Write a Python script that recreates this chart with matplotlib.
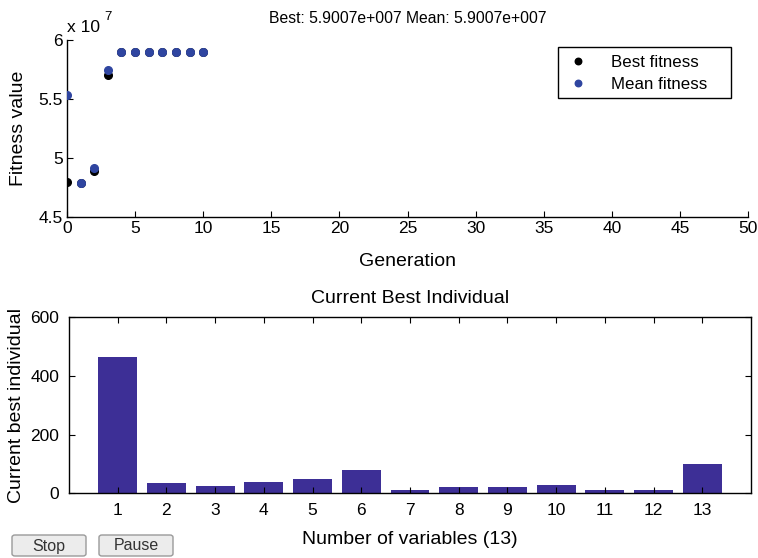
import matplotlib
matplotlib.use("Agg")
import matplotlib.pyplot as plt
from matplotlib.patches import FancyBboxPatch, Rectangle

plt.rcParams['font.family'] = ['Liberation Sans', 'DejaVu Sans']

# ---- data ----
generations_best = [0, 1, 2, 3, 4, 5, 6, 7, 8, 9, 10]
best_fitness = [4.795, 4.783, 4.892, 5.699, 5.9007, 5.9007, 5.9007, 5.9007, 5.9007, 5.9007, 5.9007]  # x 1e7
generations_mean = [0, 1, 2, 3, 4, 5, 6, 7, 8, 9, 10]
mean_fitness = [5.534, 4.783, 4.915, 5.744, 5.9007, 5.9007, 5.9007, 5.9007, 5.9007, 5.9007, 5.9007]  # x 1e7
top_yticks = [4.5, 5, 5.5, 6]
top_yticklabels = ["4.5", "5", "5.5", "6"]
top_xticks = [0, 5, 10, 15, 20, 25, 30, 35, 40, 45, 50]

variables = [1, 2, 3, 4, 5, 6, 7, 8, 9, 10, 11, 12, 13]
individual = [463, 35, 25, 39, 49, 80, 11, 22, 22, 29, 11, 11, 101]
bottom_yticks = [0, 200, 400, 600]

# ---- figure ----
W, H = 758, 558
fig = plt.figure(figsize=(W / 100, H / 100), dpi=100)

TK = 12.5   # tick labels
LB = 14     # axis labels

# top axes
ax1 = fig.add_axes([67 / W, 1 - 216.7 / H, (748 - 67) / W, (216.7 - 40) / H])
ax1.plot(generations_best, best_fitness, 'o', color='black', markersize=5.5, label='Best fitness', zorder=3)
ax1.plot(generations_mean, mean_fitness, 'o', color='#2f45a0', markersize=5.5, label='Mean fitness', zorder=4)
ax1.set_xlim(0, 50)
ax1.set_ylim(4.5, 6)
ax1.set_xticks(top_xticks)
ax1.set_yticks(top_yticks)
ax1.set_yticklabels(top_yticklabels)
ax1.spines['top'].set_visible(False)
ax1.spines['right'].set_visible(False)
for s in ['left', 'bottom']:
    ax1.spines[s].set_linewidth(1.0)
ax1.tick_params(direction='in', length=4, labelsize=TK, pad=3)
ax1.set_xlabel('Generation', fontsize=LB, labelpad=12)
ax1.set_ylabel('Fitness value', fontsize=LB, labelpad=8)
ax1.set_title('Best: 5.9007e+007 Mean: 5.9007e+007', fontsize=11.3, pad=12)
fig.text(67 / W, 1 - 27 / H, 'x 10', fontsize=TK, ha='left', va='center')
fig.text(104 / W, 1 - 17 / H, '7', fontsize=9.5, ha='left', va='center')

# legend box drawn separately (wider than matplotlib's own frame)
box = Rectangle((558 / W, 1 - 98 / H), (731 - 558) / W, (98 - 47) / H,
                transform=fig.transFigure, facecolor='white', edgecolor='black',
                linewidth=1.0, zorder=5, clip_on=False)
ax1.add_patch(box)
leg = ax1.legend(loc='upper left', bbox_to_anchor=(566 / W, 1 - 54.5 / H),
                 bbox_transform=fig.transFigure, fontsize=12.2, frameon=False,
                 handlelength=1.4, handletextpad=1.25, borderpad=0, borderaxespad=0,
                 labelspacing=0.45, markerscale=0.85)
leg.set_zorder(6)

# bottom axes
ax2 = fig.add_axes([69 / W, 1 - 493.3 / H, (751 - 69) / W, (493.3 - 317) / H])
ax2.bar(variables, individual, width=0.8, color='#3d2f96', edgecolor='none')
ax2.set_xlim(0, 14)
ax2.set_ylim(0, 600)
ax2.set_xticks(variables)
ax2.set_yticks(bottom_yticks)
for s in ax2.spines.values():
    s.set_linewidth(1.0)
ax2.tick_params(direction='in', length=4, labelsize=TK, top=True, right=True, pad=7)
ax2.set_xlabel('Number of variables (13)', fontsize=LB, labelpad=9)
ax2.set_ylabel('Current best individual', fontsize=LB, labelpad=4)
ax2.set_title('Current Best Individual', fontsize=LB, pad=10)

# buttons
for (x0, x1, label) in [(12, 86, 'Stop'), (99, 173, 'Pause')]:
    p = FancyBboxPatch((x0 / W, 1 - 556 / H), (x1 - x0) / W, 21 / H,
                       boxstyle='round,pad=0,rounding_size=0.004',
                       transform=fig.transFigure, facecolor='#ececec', edgecolor='#9a9a9a',
                       linewidth=1.0)
    fig.patches.append(p)
    fig.text((x0 + x1) / 2 / W, 1 - 546 / H, label, ha='center', va='center', fontsize=11.5,
             color='#333333')

fig.savefig('out.png', dpi=100)
